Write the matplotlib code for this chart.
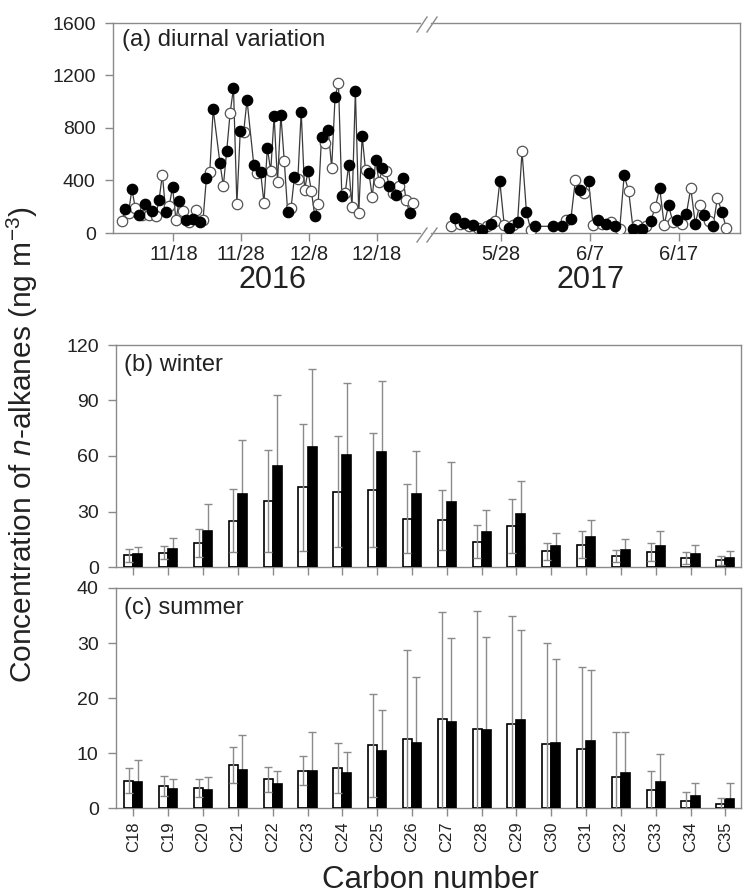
import numpy as np
import pandas as pd
import matplotlib
matplotlib.use("Agg")
import matplotlib.pyplot as plt
import matplotlib.dates as mdates
from matplotlib.lines import Line2D

plt.rcParams['font.family'] = ['Liberation Sans', 'DejaVu Sans']
plt.rcParams['mathtext.fontset'] = 'custom'
plt.rcParams['mathtext.rm'] = 'Liberation Sans'
plt.rcParams['mathtext.it'] = 'Liberation Sans:italic'

# (a) diurnal variation, day (open) and night (filled) samples, ng m-3
start_2016 = "2016-11-10 09:00"
day_2016 = [89, 152, 190, 140, 140, 132, 445, 203, 102, 165, 81, 173, 97, 465, np.nan,
            358, 914, 221, 770, np.nan, 457, 229, 472, 389, 549, 190, 411, 328, 320, 221,
            686, 495, 1143, 305, 198, 152, 480, 274, 389, 470, 305, 358, 251, 229]
night_2016 = [183, 335, 140, 224, 170, 249, 157, 350, 246, 97, 107, 81, 419, 945, 533,
              625, 1105, 777, 1013, 518, 465, 648, 892, 899, 160, 427, 922, 472, 130, 731,
              785, 1036, 282, 518, 1082, 739, 457, 556, 495, 358, 290, 419, 152]

start_2017 = "2017-05-22 09:00"
day_2017 = [56, 70, 50, 40, 55, 88, 58, 63, 622, 20, np.nan, np.nan, np.nan, 96, 401, 305,
            58, 70, 81, 33, 322, 63, 51, 195, 63, 80, 69, 343, 210, 88, 267, 38]
night_2017 = [114, 76, 58, 25, 69, 393, 38, 84, 157, 51, np.nan, 51, 56, 107, 325, 393,
              101, 69, 51, 439, 33, 33, 94, 343, 210, 96, 145, 71, 134, 51, 160]

ticks_2016 = ["2016-11-18", "2016-11-28", "2016-12-08", "2016-12-18"]
ticks_2017 = ["2017-05-28", "2017-06-07", "2017-06-17"]

# (b), (c) n-alkane profiles
carbons = ["C18", "C19", "C20", "C21", "C22", "C23", "C24", "C25", "C26",
           "C27", "C28", "C29", "C30", "C31", "C32", "C33", "C34", "C35"]
winter_day = [6.3, 7.8, 13.0, 25.1, 35.7, 43.1, 40.8, 41.5, 26.2, 25.3, 13.7, 22.2, 8.5, 12.1, 6.0, 8.1, 4.9, 3.6]
winter_day_sd = [3.6, 3.6, 7.6, 16.8, 27.8, 34.2, 30.0, 30.7, 18.6, 16.2, 8.9, 14.4, 4.7, 7.2, 3.2, 4.9, 3.4, 2.4]
winter_night = [6.9, 9.7, 19.5, 39.3, 54.5, 64.8, 60.8, 61.9, 39.2, 35.4, 19.1, 28.7, 11.6, 16.4, 9.2, 11.6, 6.9, 5.1]
winter_night_sd = [3.9, 6.2, 14.6, 29.3, 38.5, 42.2, 38.5, 38.6, 23.6, 21.6, 11.9, 17.9, 7.0, 9.2, 6.0, 7.9, 5.2, 3.6]
summer_day = [5.0, 4.0, 3.6, 7.8, 5.2, 6.8, 7.3, 11.4, 12.6, 16.2, 14.4, 15.3, 11.6, 10.7, 5.6, 3.3, 1.3, 0.7]
summer_day_sd = [2.3, 1.9, 1.6, 3.3, 2.3, 2.7, 4.5, 9.4, 16.2, 19.4, 21.4, 19.7, 18.4, 14.9, 8.3, 3.5, 1.6, 1.1]
summer_night = [4.7, 3.4, 3.2, 7.0, 4.3, 6.8, 6.4, 10.3, 11.8, 15.6, 14.1, 16.0, 11.8, 12.2, 6.3, 4.7, 2.1, 1.7]
summer_night_sd = [4.0, 1.9, 2.5, 6.2, 2.5, 7.0, 3.7, 7.6, 12.1, 15.3, 17.0, 16.3, 15.3, 12.9, 7.5, 5.1, 2.4, 2.8]

W, H = 743, 896
GRAY = "#8a8a8a"
TXT = "#222222"
fig = plt.figure(figsize=(W / 100, H / 100), dpi=100)


def px_axes(l, t, r, b):
    return fig.add_axes([l / W, 1 - b / H, (r - l) / W, (b - t) / H])


def style(ax):
    for s in ax.spines.values():
        s.set_color(GRAY)
        s.set_linewidth(1)
    ax.tick_params(direction="out", length=6, width=1, color=GRAY,
                   labelsize=14, labelcolor=TXT)
    ax.tick_params(axis="y", pad=6.5)


def diurnal(ax, start, day, night):
    t0 = pd.Timestamp(start)
    td = [t0 + pd.Timedelta(days=i) for i in range(len(day))]
    tn = [t0 + pd.Timedelta(days=i, hours=12) for i in range(len(night))]
    tt, vv = [], []
    for i in range(len(day)):
        tt.append(td[i]); vv.append(day[i])
        if i < len(night):
            tt.append(tn[i]); vv.append(night[i])
    tt = np.array(tt); vv = np.array(vv, dtype=float)
    ok = ~np.isnan(vv)
    ax.plot(tt[ok], vv[ok], color="#3a3a3a", lw=0.9, zorder=2)
    ax.plot(td, day, "o", ms=7.5, mfc="white", mec="#555555", mew=0.9, ls="none", zorder=3)
    ax.plot(tn, night, "o", ms=7.5, mfc="black", mec="black", mew=0.9, ls="none", zorder=4)


# panel (a)
axl = px_axes(113, 23, 420, 233)
axr = px_axes(431, 23, 740, 233)
diurnal(axl, start_2016, day_2016, night_2016)
diurnal(axr, start_2017, day_2017, night_2017)
for ax in (axl, axr):
    style(ax)
    ax.set_ylim(0, 1600)
    ax.tick_params(axis="x", labelsize=14.5, pad=3)
axl.set_yticks([0, 400, 800, 1200, 1600])
axl.spines["right"].set_visible(False)
axr.spines["left"].set_visible(False)
axr.set_yticks([])
axl.set_xlim(pd.Timestamp("2016-11-09 02:00"), pd.Timestamp("2016-12-24 10:00"))
axr.set_xlim(pd.Timestamp("2017-05-20 03:00"), pd.Timestamp("2017-06-23 22:00"))
axl.set_xticks([pd.Timestamp(d) for d in ticks_2016])
axr.set_xticks([pd.Timestamp(d) for d in ticks_2017])
axl.xaxis.set_major_formatter(mdates.DateFormatter("%-m/%-d"))
axr.xaxis.set_major_formatter(mdates.DateFormatter("%-m/%-d"))
axl.text(0.03, 0.97, "(a) diurnal variation", transform=axl.transAxes,
         ha="left", va="top", fontsize=17, color=TXT)
fig.text(272 / W, 1 - 288 / H, "2016", ha="center", va="baseline", fontsize=22, color=TXT)
fig.text(590 / W, 1 - 288 / H, "2017", ha="center", va="baseline", fontsize=22, color=TXT)

# axis break marks
for yb, yt in [(32, 17), (242, 228)]:
    for x0 in (417, 427):
        fig.add_artist(Line2D([x0 / W, (x0 + 10) / W], [1 - yb / H, 1 - yt / H],
                              color=GRAY, lw=1))

# panels (b) and (c)
x = np.arange(len(carbons))
w = 0.26
panels = [
    (px_axes(116, 345, 741, 567), winter_day, winter_day_sd, winter_night, winter_night_sd,
     [0, 30, 60, 90, 120], "(b) winter"),
    (px_axes(116, 588, 741, 808), summer_day, summer_day_sd, summer_night, summer_night_sd,
     [0, 10, 20, 30, 40], "(c) summer"),
]
for ax, d, dsd, n, nsd, yt, lab in panels:
    style(ax)
    ax.errorbar(x - w / 2, d, yerr=dsd, fmt="none", ecolor=GRAY, elinewidth=1,
                capsize=3, capthick=1, zorder=4)
    ax.errorbar(x + w / 2, n, yerr=nsd, fmt="none", ecolor=GRAY, elinewidth=1,
                capsize=3, capthick=1, zorder=2)
    ax.bar(x - w / 2, d, w, facecolor="none", edgecolor="black", lw=1.2, zorder=3)
    ax.bar(x + w / 2, n, w, facecolor="black", edgecolor="black", lw=1.2, zorder=3)
    ax.set_ylim(yt[0], yt[-1])
    ax.set_yticks(yt)
    ax.set_xlim(-0.5, 17.45)
    ax.set_xticks(x)
    ax.text(0.012, 0.96, lab, transform=ax.transAxes, ha="left", va="top",
            fontsize=17, color=TXT)

panels[0][0].set_xticklabels([])
panels[1][0].set_xticklabels(carbons, rotation=90, fontsize=12)

fig.text(22 / W, 1 - 445 / H, "Concentration of $n$-alkanes (ng m$^{-3}$)",
         rotation=90, ha="center", va="center", fontsize=21.5, color=TXT)
fig.text(430 / W, 1 - 880 / H, "Carbon number", ha="center", va="center",
         fontsize=22.5, color=TXT)

fig.savefig("out.png", dpi=100)
